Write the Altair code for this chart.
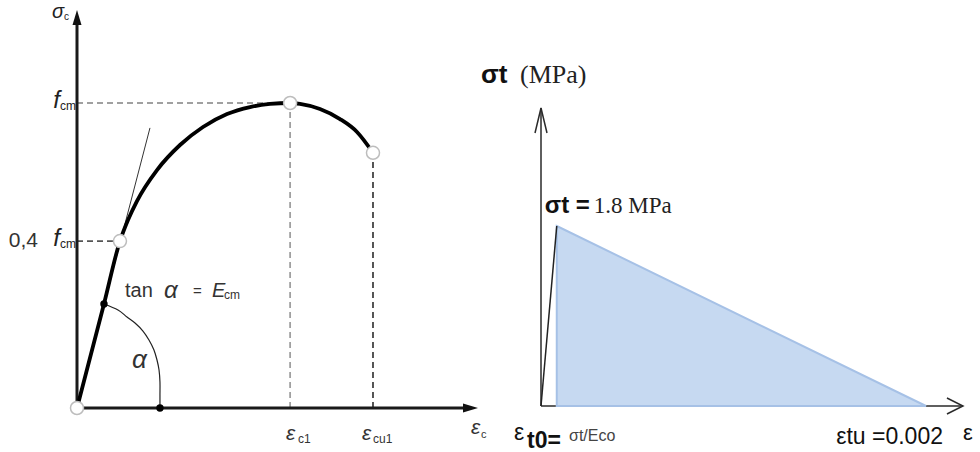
import altair as alt
import pandas as pd

SANS = "Liberation Sans"
SERIF = "Liberation Serif"

# ---------------- left panel: concrete in compression ----------------
# stress-strain curve (strain in per mille, stress in MPa)
comp_strain = [0.0, 0.319, 0.508, 0.603, 0.709, 0.946, 1.218, 1.490, 1.774, 2.046,
               2.282, 2.52, 2.637, 2.873, 3.110, 3.311, 3.5]
comp_stress = [0.0, 12.96, 20.8, 23.42, 25.79, 29.65, 32.77, 35.01, 36.63, 37.50,
               37.88, 38.0, 37.88, 37.25, 36.0, 34.39, 31.8]

fcm = 38.0            # peak stress
eps_c1 = 2.52         # strain at peak
eps_cu1 = 3.5         # ultimate strain
sig_cu1 = 31.8        # stress at ultimate strain
eps_04, sig_04 = 0.508, 20.8   # point marked "0,4 fcm"

# secant / tangent line through the origin
tangent_strain = [0.0, 0.863]
tangent_stress = [0.0, 34.9]

# angle arc between the tangent and the strain axis
arc_strain = [0.319, 0.485, 0.591, 0.686, 0.780, 0.851, 0.910, 0.946, 0.970, 0.981, 0.981, 0.981]
arc_stress = [12.96, 12.21, 11.34, 10.59, 9.59, 8.47, 7.23, 5.98, 4.73, 3.24, 1.62, 0.0]
dot_strain = [0.319, 0.981]
dot_stress = [12.96, 0.0]

left_x_end = 4.742    # end of the strain axis
left_y_end = 49.6     # end of the stress axis

# ---------------- right panel: concrete in tension ----------------
sigma_t = 1.8         # tensile strength, MPa
E_c0 = 22000.0        # initial modulus, MPa
eps_t0 = sigma_t / E_c0
eps_tu = 0.002
right_x_end = 0.002192
right_y_end = 2.98

# ---------------- layout ----------------
PANEL_W, PANEL_H = 490, 452
# left panel: origin position inside the panel and pixels per unit
L_OX, L_OY, L_KX, L_KY = 77, 408, 84.57, 8.026
# right panel
R_OX, R_OY, R_KX, R_KY = 51, 406, 192500.0, 100.0

lxs = alt.Scale(domain=[-L_OX / L_KX, (PANEL_W - L_OX) / L_KX], nice=False, zero=False)
lys = alt.Scale(domain=[-(PANEL_H - L_OY) / L_KY, L_OY / L_KY], nice=False, zero=False)
rxs = alt.Scale(domain=[-R_OX / R_KX, (PANEL_W - R_OX) / R_KX], nice=False, zero=False)
rys = alt.Scale(domain=[-(PANEL_H - R_OY) / R_KY, R_OY / R_KY], nice=False, zero=False)


def enc(ch, xs, ys, **extra):
    return ch.encode(
        x=alt.X("x:Q", scale=xs, axis=None),
        y=alt.Y("y:Q", scale=ys, axis=None),
        **extra,
    )


def line(xv, yv, xs, ys, **style):
    df = pd.DataFrame({"x": xv, "y": yv, "i": range(len(xv))})
    return enc(alt.Chart(df).mark_line(**style), xs, ys, order=alt.Order("i:Q"))


def rules(rows, xs, ys, **style):
    df = pd.DataFrame(rows, columns=["x", "y", "x2", "y2", "c"])
    return enc(alt.Chart(df).mark_rule(**style), xs, ys,
               x2="x2:Q", y2="y2:Q", color=alt.Color("c:N", scale=None))


def points(xv, yv, xs, ys, **style):
    df = pd.DataFrame({"x": xv, "y": yv})
    return enc(alt.Chart(df).mark_point(**style), xs, ys)


def label(x, y, text, xs, ys, dx=0, dy=0, size=16, font=SANS, style="normal",
          weight="normal", align="left", color="#222"):
    df = pd.DataFrame({"x": [x], "y": [y], "t": [text]})
    mk = alt.Chart(df).mark_text(dx=dx, dy=dy, fontSize=size, font=font, fontStyle=style,
                                 fontWeight=weight, align=align, baseline="middle", color=color)
    return enc(mk, lxs if xs == "L" else rxs, lys if ys == "L" else rys, text="t:N")


# ----- left layers -----
left_layers = [
    rules([
        [0, fcm, eps_c1, fcm, "#a0a0a0"],
        [eps_c1, 0, eps_c1, fcm, "#a0a0a0"],
        [0, sig_04, eps_04, sig_04, "#555555"],
        [eps_cu1, 0, eps_cu1, sig_cu1, "#444444"],
    ], lxs, lys, strokeWidth=1.8, strokeDash=[6, 4]),
    rules([
        [0, 0, left_x_end - 10 / L_KX, 0, "#1a1a1a"],
        [0, 0, 0, left_y_end - 10 / L_KY, "#1a1a1a"],
    ], lxs, lys, strokeWidth=3),
    points([left_x_end - 7.5 / L_KX], [0], lxs, lys, shape="M1,0L-1,-0.6L-1,0.6Z",
           filled=True, size=225, color="#111", opacity=1),
    points([0], [left_y_end - 7.5 / L_KY], lxs, lys, shape="M0,-1L0.6,1L-0.6,1Z",
           filled=True, size=225, color="#111", opacity=1),
    line(tangent_strain, tangent_stress, lxs, lys, color="#333", strokeWidth=1),
    line(arc_strain, arc_stress, lxs, lys, color="#222", strokeWidth=1.2,
         interpolate="cardinal"),
    line(comp_strain, comp_stress, lxs, lys, color="#000", strokeWidth=3.8,
         interpolate="monotone"),
    points(dot_strain, dot_stress, lxs, lys, shape="circle", filled=True, size=55,
           color="#000", opacity=1),
    points([0, eps_04, eps_c1, eps_cu1], [0, sig_04, fcm, sig_cu1], lxs, lys,
           shape="circle", filled=True, size=170, fill="white", stroke="#bdbdbd",
           strokeWidth=1.5, opacity=1),
    # axis titles and markers
    label(0, left_y_end, "σ", "L", "L", dx=-13, dy=2, size=20, style="italic", align="right"),
    label(0, left_y_end, "c", "L", "L", dx=-13, dy=7, size=10),
    label(0, fcm, "f", "L", "L", dx=-17, dy=-2, size=24, style="italic", align="right"),
    label(0, fcm, "cm", "L", "L", dx=-17, dy=3, size=12),
    label(0, sig_04, "0,4", "L", "L", dx=-39, dy=0, size=21, align="right", color="#333"),
    label(0, sig_04, "f", "L", "L", dx=-17, dy=-2, size=24, style="italic", align="right"),
    label(0, sig_04, "cm", "L", "L", dx=-17, dy=3, size=12),
    label(dot_strain[0], dot_stress[0], "tan", "L", "L", dx=21, dy=-13, size=20, color="#333"),
    label(dot_strain[0], dot_stress[0], "α", "L", "L", dx=60, dy=-13, size=24,
          style="italic", color="#333"),
    label(dot_strain[0], dot_stress[0], "=", "L", "L", dx=89, dy=-13, size=15, color="#333"),
    label(dot_strain[0], dot_stress[0], "E", "L", "L", dx=108, dy=-13, size=20,
          style="italic", color="#333"),
    label(dot_strain[0], dot_stress[0], "cm", "L", "L", dx=120, dy=-9, size=12, color="#333"),
    label(dot_strain[0], dot_stress[0], "α", "L", "L", dx=28, dy=56, size=26,
          style="italic", color="#333"),
    label(eps_c1, 0, "ε", "L", "L", dx=-4, dy=26, size=21, style="italic", color="#333"),
    label(eps_c1, 0, "c1", "L", "L", dx=8, dy=31, size=12, color="#333"),
    label(eps_cu1, 0, "ε", "L", "L", dx=-11, dy=26, size=21, style="italic", color="#333"),
    label(eps_cu1, 0, "cu1", "L", "L", dx=0, dy=31, size=12, color="#333"),
    label(left_x_end, 0, "ε", "L", "L", dx=-7, dy=20, size=21, style="italic", color="#333"),
    label(left_x_end, 0, "c", "L", "L", dx=3, dy=27, size=11, color="#333"),
]

# ----- right layers -----
tri = pd.DataFrame({"x": [eps_t0, eps_tu], "y": [sigma_t, 0.0]})
right_layers = [
    rules([
        [0, 0, right_x_end, 0, "#2a2a2a"],
        [0, 0, 0, right_y_end, "#2a2a2a"],
    ], rxs, rys, strokeWidth=1.5),
    points([right_x_end - 8 / R_KX], [0], rxs, rys, shape="M-1,-1L1,0L-1,1",
           filled=False, size=256, stroke="#2a2a2a", strokeWidth=1.5, opacity=1),
    points([0], [right_y_end - 12.5 / R_KY], rxs, rys, shape="M-0.48,1L0,-1L0.48,1",
           filled=False, size=625, stroke="#2a2a2a", strokeWidth=1.5, opacity=1),
    enc(alt.Chart(tri).mark_area(fill="#c6d9f1", stroke="#a6c1e6", strokeWidth=2,
                                 opacity=1), rxs, rys, y2=alt.datum(0)),
    line([0.0, eps_t0], [0.0, sigma_t], rxs, rys, color="#222", strokeWidth=1.5),
    label(0, right_y_end, "σt", "R", "R", dx=-60, dy=-33, size=26, weight="bold", color="#111"),
    label(0, right_y_end, "(MPa)", "R", "R", dx=-21, dy=-33, size=26, font=SERIF, color="#222"),
    label(eps_t0, sigma_t, "σt =", "R", "R", dx=-12, dy=-20, size=24, weight="bold", color="#111"),
    label(eps_t0, sigma_t, f"{sigma_t} MPa", "R", "R", dx=37, dy=-20, size=23, font=SERIF,
          color="#222"),
    label(0, 0, "ε", "R", "R", dx=-27, dy=27, size=23, color="#111"),
    label(0, 0, "t0=", "R", "R", dx=-14, dy=35, size=23, weight="bold", color="#111"),
    label(0, 0, "σt/Eco", "R", "R", dx=28, dy=30, size=16, color="#444"),
    label(eps_tu, 0, f"εtu ={eps_tu}", "R", "R", dx=17, dy=31, size=23, align="right",
          color="#111"),
    label(right_x_end, 0, "ε", "R", "R", dx=0, dy=27, size=22, color="#111"),
]

left = alt.layer(*left_layers).properties(width=PANEL_W, height=PANEL_H)
right = alt.layer(*right_layers).properties(width=PANEL_W, height=PANEL_H)

chart = (
    alt.hconcat(left, right, spacing=0, bounds="flush")
    .properties(padding=0, background="white")
    .configure_view(stroke=None)
)

chart.save("out.html", embed_options={"renderer": "svg", "actions": False})
